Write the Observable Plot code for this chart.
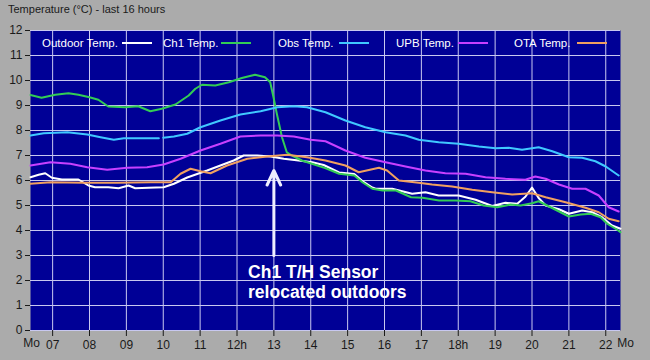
<!DOCTYPE html>
<html>
<head>
<meta charset="utf-8">
<script src="https://cdn.jsdelivr.net/npm/d3@7"></script>
<script src="https://cdn.jsdelivr.net/npm/@observablehq/plot@0.6"></script>
<style>
  body { margin: 0; background: #ababab; font-family: "Liberation Sans", Arial, sans-serif; }
  #wrap { position: relative; width: 650px; height: 360px; overflow: hidden; }
  #title { position: absolute; left: 8px; top: 3px; font-size: 11px; color: #1a1a1a; }
  .lg { position: absolute; top: 36px; font-size: 11.5px; color: #fff; line-height: 14px; white-space: nowrap; }
  .sw { position: absolute; top: 42px; height: 2px; width: 30px; }
</style>
</head>
<body>
<div id="wrap">
  <div id="chart"></div>
  <div id="title">Temperature (°C) - last 16 hours</div>
</div>
<script>
// ---- data (hours of day, °C) ----
const seriesNames = ["Outdoor Temp.", "Ch1 Temp.", "Obs Temp.", "UPB Temp.", "OTA Temp."];
const seriesColors = ["#ffffff", "#33cc55", "#40c8ff", "#c840ff", "#f0a060"];

const outdoorH = [6.4, 6.62, 6.8, 6.98, 7.25, 7.7, 7.97, 8.15, 8.51, 8.79, 9.06, 9.24, 9.6, 10.01, 10.29, 10.65, 11.19, 11.55, 11.91, 12.18, 12.55, 12.91, 13.27, 13.67, 14.04, 14.35, 14.77, 15.18, 15.4, 15.67, 15.76, 16.21, 16.75, 17.11, 17.47, 18.01, 18.47, 18.92, 19.28, 19.6, 19.82, 20.0, 20.18, 20.37, 20.73, 21.0, 21.36, 21.63, 21.9, 22.17, 22.4];
const outdoorV = [6.13, 6.23, 6.29, 6.11, 6.04, 6.04, 5.8, 5.73, 5.73, 5.69, 5.8, 5.69, 5.71, 5.73, 5.87, 6.12, 6.4, 6.6, 6.8, 7.0, 7.0, 6.96, 6.87, 6.8, 6.73, 6.62, 6.32, 6.26, 5.98, 5.72, 5.67, 5.67, 5.47, 5.53, 5.4, 5.4, 5.23, 4.98, 5.11, 5.07, 5.35, 5.72, 5.3, 5.0, 4.85, 4.67, 4.8, 4.73, 4.53, 4.2, 4.07];

const ch1H = [6.4, 6.7, 7.07, 7.43, 7.7, 8.0, 8.24, 8.51, 8.97, 9.32, 9.65, 9.96, 10.33, 10.69, 10.87, 11.05, 11.41, 11.78, 12.13, 12.49, 12.76, 12.9, 12.99, 13.08, 13.22, 13.35, 13.49, 13.76, 14.03, 14.39, 14.77, 15.18, 15.4, 15.67, 15.95, 16.31, 16.72, 17.03, 17.48, 17.93, 18.33, 18.69, 19.06, 19.42, 19.69, 20.0, 20.18, 20.41, 20.68, 21.0, 21.32, 21.59, 21.86, 22.04, 22.31, 22.4];
const ch1V = [9.42, 9.31, 9.43, 9.49, 9.43, 9.33, 9.23, 8.96, 8.93, 8.97, 8.77, 8.87, 9.04, 9.4, 9.67, 9.83, 9.8, 9.93, 10.1, 10.23, 10.13, 9.93, 9.33, 8.67, 7.73, 7.13, 7.0, 6.8, 6.67, 6.5, 6.27, 6.2, 5.93, 5.67, 5.6, 5.6, 5.33, 5.31, 5.2, 5.2, 5.17, 5.0, 4.93, 5.04, 5.0, 5.09, 5.17, 5.0, 4.8, 4.56, 4.64, 4.67, 4.53, 4.27, 4.03, 3.93];

const obsH = [6.4, 6.76, 7.4, 7.94, 8.3, 8.66, 8.93, 9.38, 9.88, 9.94, 10.0, 10.29, 10.65, 11.01, 11.55, 12.09, 12.64, 13.09, 13.54, 13.9, 14.4, 14.94, 15.48, 16.03, 16.57, 16.93, 17.47, 18.01, 18.56, 19.01, 19.37, 19.73, 20.18, 20.55, 21.0, 21.36, 21.72, 22.0, 22.35];
const obsV = [7.8, 7.89, 7.93, 7.84, 7.73, 7.63, 7.69, 7.69, 7.69, null, 7.71, 7.76, 7.87, 8.13, 8.4, 8.64, 8.77, 8.93, 8.97, 8.93, 8.73, 8.4, 8.13, 7.93, 7.8, 7.63, 7.53, 7.47, 7.36, 7.29, 7.31, 7.23, 7.33, 7.17, 6.93, 6.91, 6.77, 6.56, 6.2];

const upbH = [6.4, 6.94, 7.48, 7.94, 8.48, 9.02, 9.56, 10.01, 10.47, 11.01, 11.55, 12.09, 12.64, 13.09, 13.54, 14.0, 14.4, 14.94, 15.48, 16.03, 16.57, 17.11, 17.65, 18.2, 18.74, 19.28, 19.82, 20.09, 20.37, 20.73, 21.09, 21.45, 21.81, 22.08, 22.35];
const upbV = [6.6, 6.73, 6.67, 6.53, 6.43, 6.51, 6.53, 6.64, 6.87, 7.2, 7.47, 7.76, 7.8, 7.8, 7.76, 7.63, 7.57, 7.2, 6.91, 6.73, 6.56, 6.4, 6.29, 6.27, 6.13, 6.07, 6.03, 6.16, 6.07, 5.84, 5.67, 5.67, 5.4, 4.93, 4.76];

const otaH = [6.4, 6.94, 7.85, 8.75, 9.65, 10.2, 10.47, 10.74, 11.01, 11.28, 11.73, 12.28, 12.82, 13.36, 13.9, 14.4, 14.94, 15.3, 15.85, 16.07, 16.39, 16.93, 17.29, 17.83, 18.38, 18.92, 19.46, 20.0, 20.37, 20.91, 21.45, 21.81, 22.08, 22.35];
const otaV = [5.87, 5.93, 5.91, 5.91, 5.93, 5.93, 6.27, 6.47, 6.37, 6.29, 6.6, 6.87, 6.96, 7.03, 6.93, 6.8, 6.6, 6.33, 6.51, 6.4, 6.0, 5.91, 5.84, 5.76, 5.63, 5.53, 5.44, 5.49, 5.33, 5.13, 4.91, 4.73, 4.47, 4.37];

const hourTicks = [7, 8, 9, 10, 11, 12, 13, 14, 15, 16, 17, 18, 19, 20, 21, 22];
const hourLabels = ["07", "08", "09", "10", "11", "12h", "13", "14", "15", "16", "17", "18h", "19", "20", "21", "22"];
const dayLabel = "Mo";
const timeStart = 6.4, timeEnd = 22.4;
const tempTicks = [0, 1, 2, 3, 4, 5, 6, 7, 8, 9, 10, 11, 12];

const noteLines = ["Ch1 T/H Sensor", "relocated outdoors"];
const noteHour = 13;

// ---- build table ----
const seriesH = [outdoorH, ch1H, obsH, upbH, otaH];
const seriesV = [outdoorV, ch1V, obsV, upbV, otaV];
const rows = [];
seriesNames.forEach((name, k) => {
  seriesH[k].forEach((h, i) => rows.push({series: name, h, v: seriesV[k][i]}));
});

const fnt = '"Liberation Sans", Arial, sans-serif';
const gridColor = "#c8c8f0";

const chart = Plot.plot({
  width: 650, height: 360,
  marginLeft: 30, marginRight: 30, marginTop: 30, marginBottom: 30,
  style: {background: "transparent", color: "#1a1a1a", fontFamily: fnt, fontSize: "12px"},
  x: {domain: [timeStart, timeEnd]},
  y: {domain: [0, 12]},
  marks: [
    Plot.frame({fill: "#000096", stroke: null}),
    Plot.gridY(tempTicks, {stroke: gridColor, strokeOpacity: 1, strokeWidth: 1}),
    Plot.gridX(hourTicks, {stroke: gridColor, strokeOpacity: 1, strokeWidth: 1}),
    Plot.axisY(tempTicks, {tickSize: 5, tickPadding: 3, label: null, fontSize: 12, stroke: "#1a1a1a"}),
    Plot.axisX(hourTicks, {tickSize: 6, tickPadding: 4, label: null, fontSize: 12,
      tickFormat: (d) => hourLabels[hourTicks.indexOf(d)], stroke: "#1a1a1a"}),
    Plot.text([timeStart], {x: (d) => d, frameAnchor: "bottom", dy: 16, dx: 1,
      text: () => dayLabel, fontSize: 12, fill: "#1a1a1a"}),
    Plot.text([timeEnd], {x: (d) => d, frameAnchor: "bottom", dy: 16, dx: 5,
      text: () => dayLabel, fontSize: 12, fill: "#1a1a1a"}),
    ...seriesNames.map((name, k) => Plot.line(rows.filter((r) => r.series === name), {
      x: "h", y: "v", stroke: seriesColors[k], strokeWidth: 2,
      defined: (d) => d.v != null
    })),
    Plot.arrow([{h: noteHour}], {x1: "h", x2: "h", y1: 3.0, y2: 6.4,
      stroke: "#eeeeff", strokeWidth: 3, headLength: 8, headAngle: 50}),
    Plot.text([noteLines.join("\n")], {x: 12.3, y: 2.4, text: (d) => d, textAnchor: "start",
      lineAnchor: "top", dy: -7, fill: "#ffffff", fontSize: 17.5, fontWeight: "bold", lineHeight: 1.15})
  ]
});
document.getElementById("chart").appendChild(chart);

// ---- legend overlay ----
const wrap = document.getElementById("wrap");
const textLeft = [42, 163, 278, 396, 514];
const swLeft = [122, 221, 339, 458, 577];
seriesNames.forEach((name, k) => {
  const t = document.createElement("div");
  t.className = "lg"; t.style.left = textLeft[k] + "px"; t.textContent = name;
  wrap.appendChild(t);
  const s = document.createElement("div");
  s.className = "sw"; s.style.left = swLeft[k] + "px"; s.style.background = seriesColors[k];
  wrap.appendChild(s);
});
</script>
</body>
</html>
